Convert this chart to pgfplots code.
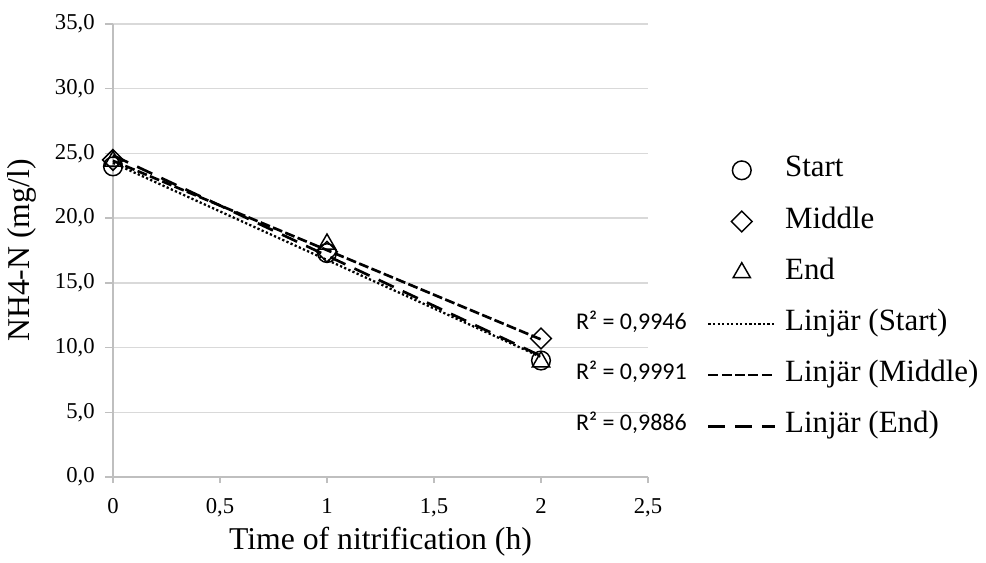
\documentclass[border=0pt]{standalone}
\usepackage{fontspec}
\setmainfont{Liberation Serif}
\newfontfamily\calibri{Carlito}
\usepackage{pgfplots}
\pgfplotsset{compat=1.18}
\definecolor{gridgray}{RGB}{217,217,217}
\definecolor{axisgray}{RGB}{191,191,191}
\newcommand\tl[1]{\fontsize{17}{19}\selectfont #1}
\pgfplotsset{
  markleg/.style={legend image code/.code={\draw[##1] plot coordinates {(25pt,0pt)};}},
  lineleg/.style={legend image code/.code={\draw[##1] (0pt,0pt) -- (50pt,0pt);}},
}

\begin{document}
\begin{tikzpicture}
\begin{axis}[
  scale only axis,
  width=401.25pt, height=339.75pt,
  xmin=0, xmax=2.5, ymin=0, ymax=35,
  xtick={0,0.5,1,1.5,2,2.5},
  xticklabels={\tl{0},\tl{0,5},\tl{1},\tl{1,5},\tl{2},\tl{2,5}},
  ytick={0,5,10,15,20,25,30,35},
  yticklabels={\tl{0,0},\tl{5,0},\tl{10,0},\tl{15,0},\tl{20,0},\tl{25,0},\tl{30,0},\tl{35,0}},
  axis lines*=left,
  axis line style={draw=axisgray, line width=1.1pt},
  ymajorgrids,
  grid style={draw=gridgray, line width=1pt},
  tick align=outside,
  xtick style={draw=axisgray, line width=1pt},
  ytick style={draw=axisgray, line width=1pt},
  x tick style={/pgfplots/major tick length=4.5pt},
  y tick style={/pgfplots/major tick length=6pt},
  clip=false,
  xticklabel style={yshift=-8pt},
  yticklabel style={xshift=-6pt},
  xlabel={Time of nitrification (h)},
  ylabel={NH4-N (mg/l)},
  label style={font=\fontsize{23.8}{26}\selectfont},
  xlabel style={at={(axis description cs:0.5,-0.143)}, anchor=center},
  ylabel style={at={(axis description cs:-0.1695,0.5)}, anchor=center},
  legend style={at={(1.110,0.3945)}, anchor=west, draw=none, fill=none,
    font=\fontsize{23.2}{26}\selectfont, inner sep=0pt,
    column sep=6.5pt, row sep=16.4pt,
    nodes={inner sep=0pt, text height=16pt, text depth=6pt}},
  legend cell align=left,
]
\addplot[only marks, mark=o, mark size=7pt, mark options={black, line width=1.1pt}, markleg]
  coordinates {(0,24.0)(1,17.3)(2,9.0)};
\addlegendentry{Start}
\addplot[only marks, mark=square, mark size=5.5pt, mark options={black, rotate=45, line width=1.1pt}, markleg]
  coordinates {(0,24.5)(1,17.4)(2,10.7)};
\addlegendentry{Middle}
\addplot[only marks, mark=triangle, mark size=7.5pt, mark options={black, line width=1.1pt}, markleg]
  coordinates {(0,24.4)(1,18.0)(2,8.9)};
\addlegendentry{End}
% linear trend lines
\addplot[black, line width=1.7pt, dash pattern=on 1.7pt off 1.7pt, lineleg]
  coordinates {(0,24.27)(2,9.27)};
\addlegendentry{Linjär (Start)}
\addplot[black, line width=2pt, dash pattern=on 7.5pt off 2.5pt, lineleg]
  coordinates {(0,24.43)(2,10.63)};
\addlegendentry{Linjär (Middle)}
\addplot[black, line width=2pt, dash pattern=on 12.5pt off 7.5pt, lineleg]
  coordinates {(0,24.85)(2,9.35)};
\addlegendentry{Linjär (End)}
\end{axis}
\begin{scope}[every node/.style={anchor=east, inner sep=0pt, font=\calibri\fontsize{18}{20}\selectfont}]
\node at (430.5pt,116.25pt) {R² = 0,9946};
\node at (430.5pt,78.75pt) {R² = 0,9991};
\node at (430.5pt,40.5pt) {R² = 0,9886};
\end{scope}
\pgfresetboundingbox
\path (-84.75pt,-63.75pt) rectangle (654.75pt,357.75pt);
\end{tikzpicture}
\end{document}
